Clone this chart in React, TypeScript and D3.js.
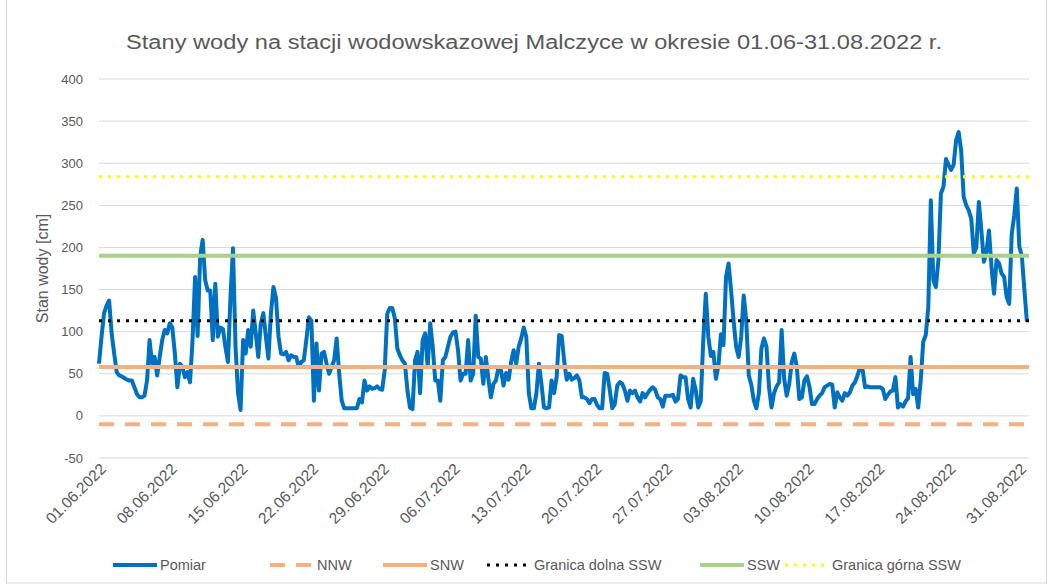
import React from "react";
import * as d3 from "d3";

// pomiar co 6 h, od 01.06.2022 00:00
const pomiar = [
  62, 94, 122, 131, 137, 98, 74, 52, 48, 47, 45, 43, 42, 42, 34, 26, 22, 22, 24, 42,
  90, 62, 70, 48, 70, 90, 102, 98, 110, 105, 74, 34, 62, 58, 46, 52, 40, 90, 165, 95,
  189, 209, 161, 149, 149, 90, 157, 94, 105, 103, 82, 64, 141, 199, 82, 27, 7, 90, 74, 102,
  82, 125, 98, 70, 110, 122, 94, 68, 122, 153, 140, 94, 74, 73, 76, 66, 72, 70, 70, 58,
  64, 66, 90, 117, 113, 18, 86, 30, 74, 76, 62, 50, 58, 66, 92, 50, 18, 9, 9, 9,
  9, 9, 9, 20, 16, 42, 30, 35, 32, 33, 35, 32, 31, 54, 121, 128, 128, 116, 80, 72,
  66, 62, 30, 10, 8, 66, 76, 27, 90, 98, 58, 110, 82, 42, 42, 18, 66, 70, 82, 94,
  99, 100, 78, 42, 50, 50, 90, 42, 50, 119, 70, 68, 38, 70, 44, 22, 38, 42, 58, 54,
  36, 51, 43, 64, 78, 62, 82, 92, 105, 94, 27, 9, 9, 27, 62, 38, 10, 9, 10, 42,
  27, 46, 96, 95, 65, 43, 50, 43, 45, 48, 42, 22, 22, 20, 15, 20, 20, 13, 9, 9,
  51, 50, 31, 9, 14, 36, 40, 38, 30, 18, 30, 27, 30, 22, 17, 27, 22, 27, 31, 34,
  31, 22, 20, 11, 24, 24, 24, 25, 17, 20, 48, 46, 46, 20, 10, 44, 31, 10, 17, 90,
  145, 94, 71, 76, 44, 60, 97, 84, 165, 181, 149, 113, 82, 70, 94, 143, 113, 48, 37, 18,
  9, 27, 80, 92, 82, 34, 10, 27, 35, 40, 102, 44, 24, 38, 64, 74, 58, 20, 22, 42,
  47, 35, 14, 14, 20, 24, 27, 34, 36, 38, 37, 10, 28, 22, 18, 27, 24, 28, 36, 40,
  48, 58, 55, 34, 35, 34, 34, 34, 34, 34, 32, 20, 25, 29, 30, 46, 10, 14, 11, 17,
  21, 70, 26, 32, 10, 42, 88, 96, 129, 256, 161, 153, 185, 264, 272, 305, 298, 292, 298, 327,
  337, 315, 260, 250, 244, 234, 193, 200, 254, 220, 183, 195, 220, 177, 145, 185, 181, 169, 165, 141,
  133, 216, 238, 270, 201, 190, 150, 112,
];
const stepHours = 6;
const totalHours = 2207;

const dateLabels = [
  "01.06.2022", "08.06.2022", "15.06.2022", "22.06.2022", "29.06.2022", "06.07.2022", "13.07.2022",
  "20.07.2022", "27.07.2022", "03.08.2022", "10.08.2022", "17.08.2022", "24.08.2022", "31.08.2022",
];
const yTicks = [-50, 0, 50, 100, 150, 200, 250, 300, 350, 400];

const refNames = ["NNW", "SNW", "Granica dolna SSW", "SSW", "Granica górna SSW"];
const refValues = [-10, 58, 113, 190, 284];

const W = 1054;
const H = 586;
const grey = "#595959";
const font = "'Liberation Sans', Arial, sans-serif";

const refStyles = [
  { color: "#f4b183", width: 4, dash: "15 11" },
  { color: "#f4b183", width: 4, dash: null },
  { color: "#000000", width: 3, dash: "3 6" },
  { color: "#a9d18e", width: 4, dash: null },
  { color: "#ffff00", width: 3, dash: "3 6" },
];

const legendX = [113, 270, 383, 487, 700, 785];

export default function App() {
  const x = d3.scaleLinear().domain([0, totalHours]).range([99, 1029]);
  const y = d3.scaleLinear().domain([-50, 400]).range([458, 79]);

  const line = d3
    .line<number>()
    .x((d, i) => x(i * stepHours))
    .y((d) => y(d))
    .curve(d3.curveLinear);

  const legendItems = [
    { name: "Pomiar", color: "#0070c0", width: 4, dash: null as string | null },
    ...refNames.map((n, i) => ({ name: n, ...refStyles[i] })),
  ];

  return (
    <svg
      width={W}
      height={H}
      style={{ position: "absolute", left: 0, top: 0, background: "#fff" }}
      fontFamily={font}
    >
      <rect x={6.5} y={-1} width={1040} height={H - 2} fill="#fff" stroke="#d9d9d9" />

      <text
        x={534}
        y={49}
        textAnchor="middle"
        fontSize={20}
        fill={grey}
        textLength={816}
        lengthAdjust="spacingAndGlyphs"
      >
        Stany wody na stacji wodowskazowej Malczyce w okresie 01.06-31.08.2022 r.
      </text>

      {yTicks.map((t) => (
        <g key={t}>
          <line x1={99} x2={1029} y1={y(t)} y2={y(t)} stroke="#d9d9d9" strokeWidth={1} />
          <text x={83} y={y(t) + 4.5} textAnchor="end" fontSize={13} fill={grey}>
            {t}
          </text>
        </g>
      ))}

      <text
        transform={`translate(48, ${y(175)}) rotate(-90)`}
        textAnchor="middle"
        fontSize={16}
        fill={grey}
      >
        Stan wody [cm]
      </text>

      {dateLabels.map((d, k) => (
        <text
          key={d}
          transform={`translate(${x(k * 168) + 8}, 470) rotate(-45)`}
          textAnchor="end"
          fontSize={15.5}
          fill={grey}
        >
          {d}
        </text>
      ))}

      <path
        d={line(pomiar) || ""}
        fill="none"
        stroke="#0070c0"
        strokeWidth={4}
        strokeLinejoin="round"
      />

      {refValues.map((v, i) => (
        <line
          key={refNames[i]}
          x1={99}
          x2={1029}
          y1={y(v)}
          y2={y(v)}
          stroke={refStyles[i].color}
          strokeWidth={refStyles[i].width}
          strokeDasharray={refStyles[i].dash || undefined}
        />
      ))}

      {legendItems.map((it, i) => (
        <g key={it.name} transform={`translate(${legendX[i]}, 565)`}>
          <line
            x1={0}
            x2={44}
            y1={0}
            y2={0}
            stroke={it.color}
            strokeWidth={it.width}
            strokeDasharray={it.dash || undefined}
          />
          <text x={47} y={5} fontSize={14.5} fill={grey}>
            {it.name}
          </text>
        </g>
      ))}
    </svg>
  );
}
